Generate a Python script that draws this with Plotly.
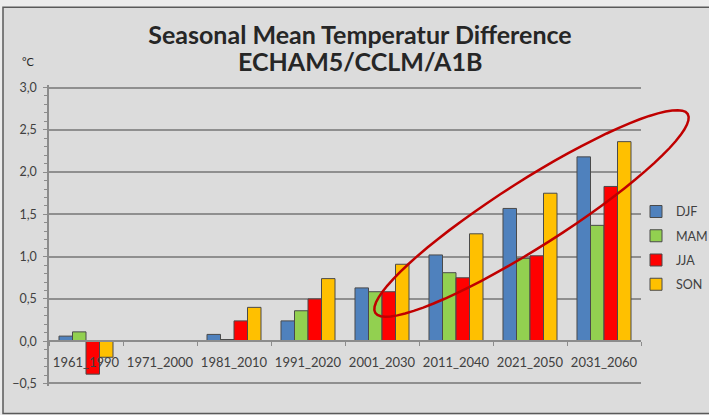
import math
import plotly.graph_objects as go

categories = ["1961_1990", "1971_2000", "1981_2010", "1991_2020",
              "2001_2030", "2011_2040", "2021_2050", "2031_2060"]
djf = [0.06, 0.0, 0.08, 0.24, 0.63, 1.02, 1.57, 2.18]
mam = [0.11, 0.0, 0.02, 0.36, 0.585, 0.81, 0.98, 1.37]
jja = [-0.39, 0.0, 0.24, 0.50, 0.585, 0.75, 1.01, 1.83]
son = [-0.19, 0.0, 0.40, 0.74, 0.91, 1.27, 1.75, 2.36]

series = [("DJF", djf, "#4f81bd"), ("MAM", mam, "#92d050"),
          ("JJA", jja, "#ff0000"), ("SON", son, "#ffc000")]

W, H = 709, 415
Y0, Y1 = -0.5, 3.0
EPS = 0.03
PXU = 84.3  # pixels per unit
L, R = 49, 68
T = 88 - EPS * PXU
B = 32 - EPS * PXU
PW, PH = W - L - R, H - T - B


def px2paper(px, py):
    return (px - L) / PW, 1 - (py - T) / PH


fig = go.Figure()
for i, (name, vals, col) in enumerate(series):
    fig.add_trace(go.Bar(
        x=categories, y=vals, name=name, legendgroup=name,
        marker=dict(color=col, line=dict(color="#4a4a4a", width=1)),
    ))

font_fam = "Lato, 'Open Sans', sans-serif"

# frame background
fx0, fy0 = px2paper(3, 8)
fx1, fy1 = px2paper(730, 413)
shapes = [dict(type="rect", xref="paper", yref="paper", x0=fx0, y0=fy1, x1=fx1, y1=fy0,
               fillcolor="#dcdcdc", line=dict(color="#5a5a5a", width=1.5), layer="below")]

# red ellipse annotation
cx, cy, a, b, th = 531.5, 213.5, 185, 33, math.radians(32.4)
pts = []
for k in range(73):
    t = 2 * math.pi * k / 72
    ux, uy = a * math.cos(t), b * math.sin(t)
    px = cx + ux * math.cos(th) - uy * math.sin(th)
    py = cy - (ux * math.sin(th) + uy * math.cos(th))
    pts.append(px2paper(px, py))
path = "M " + " L ".join(f"{x:.5f},{y:.5f}" for x, y in pts) + " Z"
shapes.append(dict(type="path", xref="paper", yref="paper", path=path,
                   line=dict(color="#c00000", width=2.5), layer="above"))

zero_pos = (0 - (Y0 - EPS)) / ((Y1 + EPS) - (Y0 - EPS))
title_x = px2paper(360, 0)[0]

fig.update_layout(
    width=W, height=H,
    margin=dict(l=L, r=R, t=T, b=B, pad=0, autoexpand=False),
    paper_bgcolor="#ececec", plot_bgcolor="rgba(0,0,0,0)",
    separators=",.",
    barmode="group", bargap=0.27, bargroupgap=0,
    font=dict(family=font_fam, color="#404040", size=13),
    title=dict(text="Seasonal Mean Temperatur Difference",
               x=title_x, xanchor="center", xref="paper", y=1 - 35 / H, yanchor="middle",
               font=dict(family=font_fam, size=25, color="#262626", weight="bold")),
    xaxis=dict(type="category", anchor="free", position=zero_pos, automargin=False,
               showline=True, linecolor="#8c8c8c", linewidth=1.5, layer="above traces",
               ticks="outside", tickson="boundaries", ticklen=4, tickcolor="#8c8c8c",
               ticklabelstandoff=9,
               showgrid=False, tickangle=0, tickfont=dict(size=13, color="#404040"),
               range=[-0.5, 7.5]),
    yaxis=dict(range=[Y0 - EPS, Y1 + EPS], tick0=0, dtick=0.5, tickformat=".1f", automargin=False,
               showgrid=True, gridcolor="#8f8f8f", gridwidth=1.5,
               showline=True, linecolor="#8c8c8c", linewidth=1.5,
               ticks="outside", ticklen=4, tickcolor="#8c8c8c", ticklabelstandoff=4,
               zeroline=False, tickfont=dict(size=12.5, color="#404040"),
               minor=dict(dtick=0.1, ticks="outside", ticklen=3, tickcolor="#8c8c8c", showgrid=False)),
    legend=dict(x=(636 - L) / PW, y=px2paper(0, 197)[1], xanchor="left", yanchor="top",
                bgcolor="rgba(0,0,0,0)", font=dict(size=12.5, color="#404040"),
                tracegroupgap=5, itemwidth=30),
    shapes=shapes,
    annotations=[
        dict(text="<b>ECHAM5/CCLM/A1B</b>", xref="paper", yref="paper",
             x=title_x, y=px2paper(0, 62)[1], showarrow=False,
             font=dict(size=25, color="#262626", family=font_fam),
             xanchor="center", yanchor="middle"),
        dict(text="°C", xref="paper", yref="paper",
             x=px2paper(28, 0)[0], y=px2paper(0, 62)[1],
             showarrow=False, font=dict(size=11, color="#262626", family=font_fam),
             xanchor="center", yanchor="middle")],
)

fig.write_html("out.html", config={"displayModeBar": False},
               post_script="document.body.style.margin='0px';document.body.style.overflow='hidden';")
